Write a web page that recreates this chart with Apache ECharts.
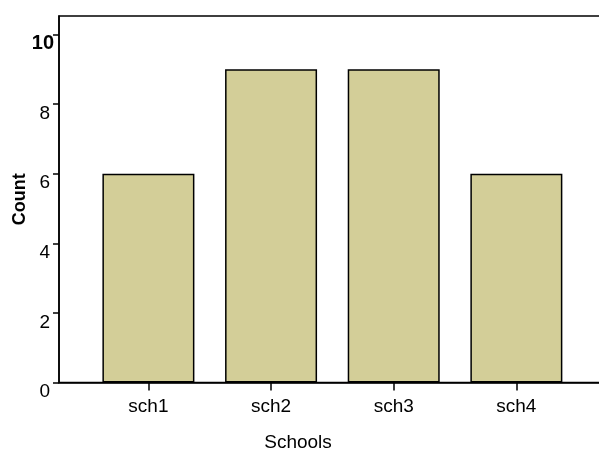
<!DOCTYPE html>
<html>
<head>
<meta charset="utf-8">
<script src="https://cdn.jsdelivr.net/npm/echarts@6/dist/echarts.min.js"></script>
<style>
html,body{margin:0;padding:0;background:#fff;}
#c{width:599px;height:451px;}
</style>
</head>
<body>
<div id="c"></div>
<script>
const categories = ['sch1', 'sch2', 'sch3', 'sch4'];
const counts = [6, 9, 9, 6];
const yTicks = [0, 2, 4, 6, 8, 10];

const chart = echarts.init(document.getElementById('c'), null, {renderer: 'canvas'});
const font = '"Liberation Sans", Arial, Helvetica, sans-serif';
chart.setOption({
  animation: false,
  backgroundColor: '#fff',
  grid: {left: 59, top: 16, right: -2, bottom: 68.5, containLabel: false, outerBoundsMode: 'none', show: true, borderColor: '#000', borderWidth: 1.5, backgroundColor: 'transparent'},
  xAxis: {
    type: 'value',
    min: -0.729,
    max: 3.69,
    splitLine: {show: false},
    axisLine: {show: true, onZero: false, lineStyle: {color: '#000', width: 1.5}},
    axisTick: {show: true, customValues: [0, 1, 2, 3], length: 8, lineStyle: {color: '#000', width: 1.5}},
    axisLabel: {customValues: [0, 1, 2, 3], formatter: v => categories[Math.round(v)], color: '#000', fontFamily: font, fontSize: 19, margin: 15},
    name: 'Schools',
    nameLocation: 'middle',
    nameGap: 51,
    nameMoveOverlap: false,
    nameTextStyle: {color: '#000', fontFamily: font, fontSize: 19, padding: [0, 64, 0, 0]}
  },
  yAxis: {
    type: 'value',
    min: 0,
    max: 10.53,
    interval: 2,
    splitLine: {show: false},
    axisLine: {show: true, onZero: false, lineStyle: {color: '#000', width: 1.5}},
    axisTick: {show: true, length: 6, lineStyle: {color: '#000', width: 1.5}},
    axisLabel: {
      color: '#000', fontFamily: font, fontSize: 19, margin: 9,
      padding: [19, 0, 0, 0],
      formatter: v => (yTicks.indexOf(v) === yTicks.length - 1 ? '{b|' + v + '}' : String(v)),
      rich: {b: {fontWeight: 'bold', fontSize: 20, fontFamily: font, color: '#000', padding: [0, -4, 0, 0]}}
    },
    name: 'Count',
    nameLocation: 'middle',
    nameGap: 30,
    nameMoveOverlap: false,
    nameTextStyle: {color: '#000', fontFamily: '"Liberation Sans Narrow", "Liberation Sans", Arial, sans-serif', fontWeight: 'bold', fontSize: 18}
  },
  series: [{
    type: 'bar',
    data: counts.map((v, i) => [i, v]),
    barWidth: 92,
    itemStyle: {color: '#d3ce98', borderColor: '#000', borderWidth: 1.5}
  }]
});
</script>
</body>
</html>
